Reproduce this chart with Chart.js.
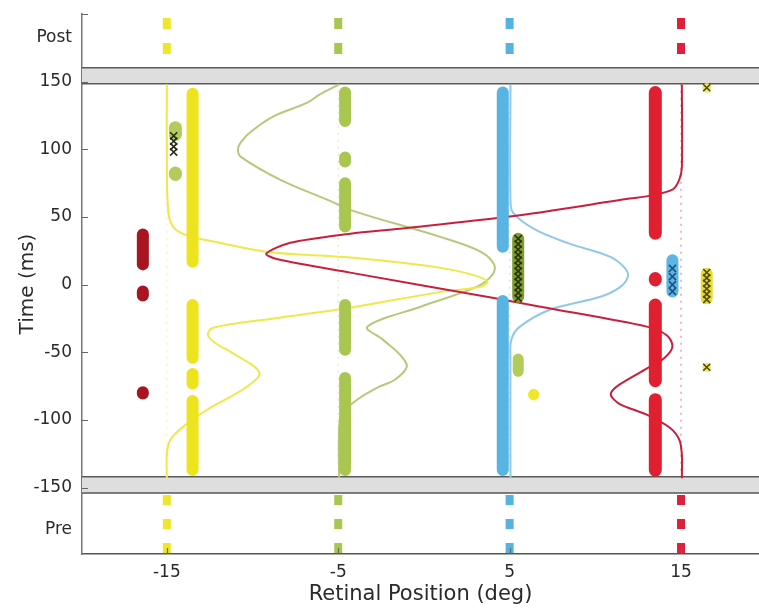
<!DOCTYPE html>
<html>
<head>
<meta charset="utf-8">
<script src="https://cdn.jsdelivr.net/npm/chart.js@4.4.1/dist/chart.umd.min.js"></script>
<style>
  html, body { margin: 0; padding: 0; background: #fff; }
  #wrap { width: 759px; height: 608px; }
</style>
</head>
<body>
<div id="wrap"><canvas id="chart" width="759" height="608"></canvas></div>
<script>
// axes
const xTicks = [-15, -5, 5, 15];
const yTicks = [-150, -100, -50, 0, 50, 100, 150];
const yTickMarks = [-150, -100, -50, 0, 50, 100, 150, 200];
const postLabelAt = 182.5;
const preLabelAt = -181;
const postBand = [148.5, 160.3];
const preBand = [-154, -142];

// target positions and their dashed markers
const targetX = [-15, -5, 5, 15];
const targetColors = ["#eee62a", "#a8c650", "#55b3e2", "#e0203a"];
const guideColors = ["rgba(238,226,60,0.35)", "rgba(168,198,80,0.3)", "rgba(85,179,226,0.3)", "rgba(230,60,100,0.5)"];
const postSpan = [200, 160.3];
const preSpan = [-154, -199];
const mainSpan = [148.5, -142];

// columns of responses: [start, end] times of each run
const yellowColX = -13.5;
const yellowRuns = [[141, 17], [-15, -54], [-66, -73], [-86, -137]];
const greenColX = -4.6;
const greenRuns = [[142, 121], [94, 91], [75, 43], [-15, -48], [-69, -137]];
const blueColX = 4.6;
const blueRuns = [[142, 28], [-12, -137]];
const redColX = 13.5;
const redRuns = [[142, 38], [4.5, 3.5], [-15, -71], [-85, -137]];
const darkRedColX = -16.4;
const darkRedRuns = [[37, 15], [-5, -8], [-79.5, -80.5]];

// smaller clusters
const lightGreenNearLeftX = -14.5;
const lightGreenNearLeftRuns = [[116, 111], [82.5, 81.5]];
const lightGreenMidX = 5.5;
const lightGreenMidRuns = [[-55, -64]];
const yellowDot = [6.4, -81];

// cross markers
const blackCrossX = -14.6;
const blackCrossT = [110, 106, 102, 98];
const greenCrossX = 5.5;
const greenCrossRun = [34, -9];
const greenCrossT = [34, 30, 26, 22, 18, 14, 10, 6, 2, -2, -6, -10];
const blueCrossX = 14.5;
const blueCrossRun = [18, -5];
const blueCrossT = [12, 6, 0, -5];
const yellowCrossX = 16.5;
const yellowCrossRun = [8, -10];
const yellowCrossT = [9, 5, 1, -3, -7, -11];
const yellowCrossSingles = [145.5, -61];

// curves: [x deg, time ms]
const yellowCurve = [
  [-15.0, 148], [-15.0, 100], [-14.9, 52], [-14.5, 41], [-13.6, 35.5], [-12.5, 32.5],
  [-9.2, 24.4], [-4.3, 20.0], [0.9, 12.6], [3.0, 6.7], [3.7, 2.2], [3.3, -1.5],
  [0.9, -5.5], [-4.3, -17.0], [-8.4, -24.4], [-12.3, -31.8], [-12.6, -37], [-12.2, -42.9],
  [-11.1, -51], [-9.6, -65], [-10.4, -76], [-12.65, -92.4], [-13.9, -103.5],
  [-14.8, -114.6], [-15.0, -125.6], [-15.0, -143]
];
const greenCurve = [
  [-4.95, 148], [-6.1, 140.4], [-6.8, 134.5], [-8.8, 124.2], [-10.1, 113], [-10.7, 105],
  [-10.85, 99.8], [-10.7, 94.6], [-8.4, 77.6], [-5.65, 62.8], [-4.0, 54], [0.9, 35.5],
  [3.3, 24.4], [4.1, 14.8], [4.0, 7.4], [3.1, -1.5], [-0.2, -16.3], [-3.3, -31],
  [-2.4, -40.6], [-1.4, -51.7], [-1.0, -60.6], [-1.7, -70.2], [-2.6, -75.4],
  [-3.9, -85], [-4.8, -96], [-4.95, -107], [-4.95, -143]
];
const redCurve = [
  [15.05, 148], [15.05, 87], [14.9, 77.6], [14.5, 70.2], [13.2, 65.8], [12.0, 63.6],
  [5.0, 50.3], [-1.4, 41.4], [-4.3, 37.7], [-7.8, 31], [-9.2, 23], [-8.6, 19],
  [-4.3, 8.9], [4.0, -9.6], [6.8, -16.3], [13.0, -31], [14.2, -37.7], [14.5, -45.8],
  [14.05, -54], [13.2, -60.6], [11.4, -73.9], [10.9, -81], [11.4, -88],
  [13.0, -96], [14.35, -105.7], [14.9, -114.6], [15.05, -125.6], [15.05, -143]
];
const blueCurve = [
  [5.05, 148], [5.05, 63], [5.2, 53.2], [6.5, 40.6], [8.5, 30.3], [10.85, 20.7],
  [11.7, 12.6], [11.9, 5.9], [11.4, -2.2], [10.3, -8.9], [7.35, -18.5], [5.6, -31],
  [5.1, -40.6], [5.05, -55], [5.05, -143]
];

const datasets = [];

function line(points, opts) {
  datasets.push(Object.assign({
    data: points.map(([x, y]) => ({ x, y })),
    showLine: true,
    pointRadius: 0,
    fill: false
  }, opts));
}

function runs(x, list, color, width, order) {
  list.forEach(([a, b]) => line([[x, a], [x, b]], {
    borderColor: color, borderWidth: width, borderCapStyle: "round", order
  }));
}

function crosses(x, times, color, order) {
  datasets.push({
    data: times.map((t) => ({ x, y: t })),
    showLine: false,
    pointStyle: "crossRot",
    pointRadius: 5,
    borderColor: color,
    backgroundColor: color,
    pointBorderWidth: 1.6,
    order
  });
}

targetX.forEach((x, i) => {
  line([[x, postSpan[0]], [x, postSpan[1]]], {
    borderColor: targetColors[i], borderWidth: 8, borderDash: [11, 14], borderDashOffset: 21, order: 9
  });
  line([[x, preSpan[0]], [x, preSpan[1]]], {
    borderColor: targetColors[i], borderWidth: 8, borderDash: [10, 14], borderDashOffset: 22, order: 9
  });
  line([[x, mainSpan[0]], [x, mainSpan[1]]], {
    borderColor: guideColors[i], borderWidth: 1.5, borderDash: [2, 5], order: 12
  });
});

line(yellowCurve, { borderColor: "#efe84a", borderWidth: 2, tension: 0.35, order: 8 });
line(greenCurve, { borderColor: "#b8c87a", borderWidth: 2, tension: 0.35, order: 8 });
line(blueCurve, { borderColor: "#92c8e6", borderWidth: 2, tension: 0.35, order: 8 });
line(redCurve, { borderColor: "#c8203c", borderWidth: 2, tension: 0.3, order: 7 });

runs(yellowColX, yellowRuns, "#eee41e", 12, 5);
runs(greenColX, greenRuns, "#a8c650", 12, 5);
runs(blueColX, blueRuns, "#57b4e3", 12, 5);
runs(redColX, redRuns, "#e01f30", 13, 5);
runs(darkRedColX, darkRedRuns, "#a8141f", 12, 5);
runs(lightGreenNearLeftX, lightGreenNearLeftRuns, "#b2cc5c", 13, 4);
runs(lightGreenMidX, lightGreenMidRuns, "#b2cc5c", 11, 4);
runs(yellowDot[0], [[yellowDot[1], yellowDot[1] - 0.5]], "#f0e62a", 11, 4);

runs(greenCrossX, [greenCrossRun], "#7f9c30", 12, 3);
runs(blueCrossX, [blueCrossRun], "#5db6e2", 12, 3);
runs(yellowCrossX, [yellowCrossRun], "#e8dc2c", 12, 3);
yellowCrossSingles.forEach((t) => runs(yellowCrossX, [[t, t - 0.4]], "#f2ea70", 9, 3));

crosses(blackCrossX, blackCrossT, "#2a2a1a", 1);
crosses(greenCrossX, greenCrossT, "#28330c", 1);
crosses(blueCrossX, blueCrossT, "#1d4f80", 1);
crosses(yellowCrossX, yellowCrossT, "#4d4a0a", 1);
crosses(yellowCrossX, yellowCrossSingles, "#4d4a0a", 1);

const framePlugin = {
  id: "frame",
  beforeDatasetsDraw(chart) {
    const { ctx, chartArea: a, scales: { y } } = chart;
    ctx.save();
    [postBand, preBand].forEach(([lo, hi]) => {
      const top = y.getPixelForValue(hi);
      const bot = y.getPixelForValue(lo);
      ctx.fillStyle = "#dedede";
      ctx.fillRect(a.left, top, a.right - a.left, bot - top);
      ctx.strokeStyle = "#5a5a5a";
      ctx.lineWidth = 1.5;
      ctx.beginPath();
      ctx.moveTo(a.left, top); ctx.lineTo(a.right, top);
      ctx.moveTo(a.left, bot); ctx.lineTo(a.right, bot);
      ctx.stroke();
    });
    ctx.restore();
  },
  afterDraw(chart) {
    const { ctx, chartArea: a, scales: { x, y } } = chart;
    ctx.save();
    ctx.strokeStyle = "#666";
    ctx.lineWidth = 1.2;
    ctx.beginPath();
    yTickMarks.forEach((v) => {
      const py = Math.round(y.getPixelForValue(v)) + 0.5;
      ctx.moveTo(a.left, py); ctx.lineTo(a.left + 6, py);
    });
    xTicks.forEach((v) => {
      const px = Math.round(x.getPixelForValue(v)) + 0.5;
      ctx.moveTo(px, a.bottom); ctx.lineTo(px, a.bottom - 6);
    });
    ctx.stroke();
    ctx.restore();
  }
};

Chart.defaults.font.family = "'DejaVu Sans', sans-serif";
Chart.defaults.color = "#2a2a2a";

new Chart(document.getElementById("chart"), {
  type: "scatter",
  data: { datasets },
  options: {
    responsive: false,
    animation: false,
    events: [],
    layout: { autoPadding: false, padding: { top: 14, left: 0, right: 0, bottom: 0 } },
    plugins: { legend: { display: false }, tooltip: { enabled: false } },
    scales: {
      x: {
        type: "linear",
        min: -19.95,
        max: 19.55,
        afterBuildTicks: (s) => { s.ticks = xTicks.map((v) => ({ value: v })); },
        afterFit: (s) => { s.height = 54; s.paddingLeft = 0; s.paddingRight = 0; },
        grid: { display: false, drawTicks: false },
        border: { display: true, color: "#555", width: 1.5 },
        ticks: { font: { size: 17 }, padding: 8, autoSkip: false, maxRotation: 0 },
        title: { display: true, text: "Retinal Position (deg)", font: { size: 21 }, padding: { top: 0, bottom: 1 } }
      },
      y: {
        type: "linear",
        min: -199,
        max: 200,
        afterBuildTicks: (s) => {
          s.ticks = [preLabelAt, ...yTicks, postLabelAt].map((v) => ({ value: v }));
        },
        afterFit: (s) => { s.width = 82; s.paddingTop = 0; s.paddingBottom = 0; },
        grid: { display: false, drawTicks: false },
        border: { display: true, color: "#777", width: 1.5 },
        ticks: {
          font: { size: 17 },
          padding: 10,
          autoSkip: false,
          callback: (v) => (v === postLabelAt ? "Post" : v === preLabelAt ? "Pre" : String(v))
        },
        title: { display: true, text: "Time (ms)", font: { size: 20 }, padding: { top: 16, bottom: 0 } }
      }
    }
  },
  plugins: [framePlugin]
});
</script>
</body>
</html>
